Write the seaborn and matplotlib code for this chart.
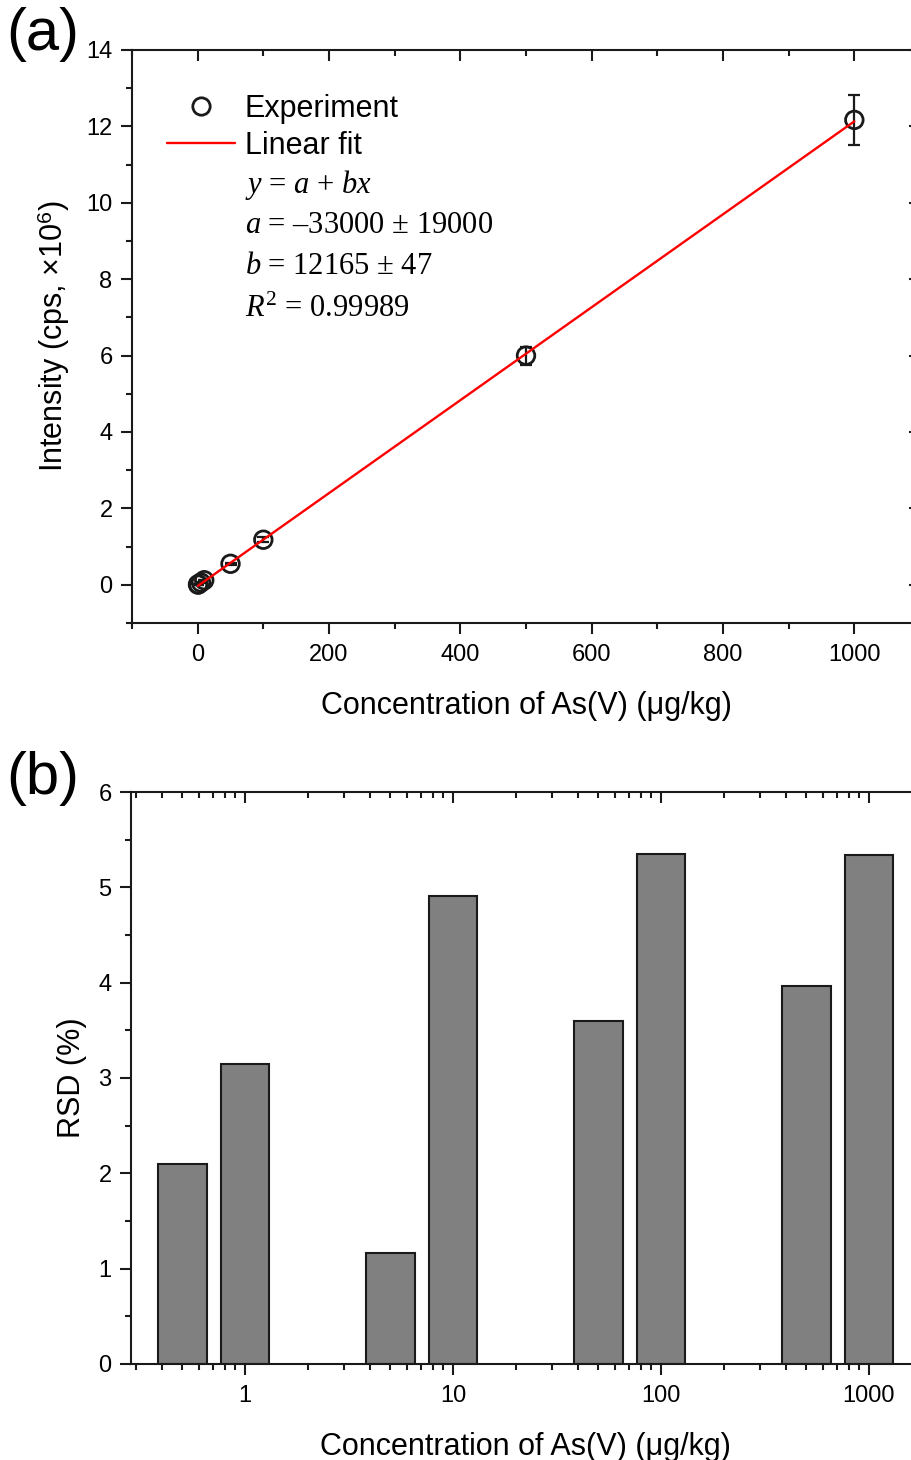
import numpy as np
import matplotlib
matplotlib.use("Agg")
import matplotlib.pyplot as plt
from matplotlib.lines import Line2D
from matplotlib.ticker import MultipleLocator, LogLocator, NullFormatter, FixedLocator, FixedFormatter
import seaborn as sns

sns.set_theme(style="ticks")
plt.rcParams['font.family'] = ['Liberation Sans', 'DejaVu Sans']
plt.rcParams['mathtext.fontset'] = 'custom'
plt.rcParams['mathtext.rm'] = 'Liberation Serif'
plt.rcParams['mathtext.it'] = 'Liberation Serif:italic'
plt.rcParams['mathtext.sf'] = 'Liberation Sans'
for k in ['text.color', 'axes.labelcolor', 'xtick.color', 'ytick.color', 'axes.edgecolor']:
    plt.rcParams[k] = 'black'

# concentrations of As(V), ug/kg
conc = [0.5, 1, 5, 10, 50, 100, 500, 1000]
# intensity, x10^6 cps
intensity = [0.006, 0.012, 0.06, 0.12, 0.55, 1.18, 6.0, 12.17]
# RSD (%)
rsd = [2.10, 3.15, 1.165, 4.91, 3.60, 5.35, 3.96, 5.34]
# linear fit params (cps)
fit_a = -33000
fit_b = 12165
bar_labels = ["1", "10", "100", "1000"]

conc = np.array(conc)
intensity = np.array(intensity)
rsd = np.array(rsd)
err = intensity * rsd / 100.0

W, H = 912, 1460
fig = plt.figure(figsize=(W / 100, H / 100), dpi=100)

lw = 1.5
tick_fs = 17
lab_fs = 22

# ---------- panel (a) ----------
ax1 = fig.add_axes([132 / W, 1 - 623 / H, 788 / W, 573 / H])

ax1.errorbar(conc, intensity, yerr=err, fmt="none", ecolor="k",
             elinewidth=1.6, capsize=4, capthick=1.6, zorder=3)
sns.scatterplot(x=conc, y=intensity, marker="o", s=160, facecolors="none",
                edgecolors="k", linewidth=2.0, ax=ax1, zorder=4)
# fit line is drawn on top of the points
xfit = np.array([conc.min(), conc.max()])
yfit = (fit_a + fit_b * xfit) / 1e6
sns.lineplot(x=xfit, y=yfit, color="red", lw=1.7, ax=ax1, zorder=5)

ax1.set_xlim(-100, 1100)
ax1.set_ylim(-1, 14)
ax1.xaxis.set_major_locator(MultipleLocator(200))
ax1.xaxis.set_minor_locator(MultipleLocator(100))
ax1.yaxis.set_major_locator(MultipleLocator(2))
ax1.yaxis.set_minor_locator(MultipleLocator(1))
ax1.set_xlabel("Concentration of As(V) (μg/kg)", fontsize=lab_fs, labelpad=18)
ax1.set_ylabel("Intensity (cps, ×10$^{\\mathsf{6}}$)", fontsize=lab_fs, labelpad=10)

handles = [Line2D([], [], marker="o", ls="none", mfc="none", mec="k", ms=12.5, mew=2.0),
           Line2D([], [], color="red", lw=1.7)]
ax1.legend(handles, ["Experiment", "Linear fit"], loc="upper left",
           bbox_to_anchor=(0.044, 0.924), frameon=False, fontsize=lab_fs,
           handlelength=2.22, handletextpad=0.33, labelspacing=0.24, borderaxespad=0,
           borderpad=0)

eq_lines = ["$y$ = $a$ + $bx$",
            "$a$ = –33000 ± 19000",
            "$b$ = 12165 ± 47",
            "$R^{\\mathrm{2}}$ = 0.99989"]
eq_y = [0.765, 0.694, 0.622, 0.548]
for txt, yy in zip(eq_lines, eq_y):
    ax1.text(0.1434, yy, txt, transform=ax1.transAxes, fontsize=lab_fs,
             family="Liberation Serif", va="center", ha="left")

# ---------- panel (b) ----------
ax2 = fig.add_axes([131 / W, 1 - 1364 / H, 789 / W, 572 / H])
ax2.set_xscale("log")
half = 1.31
lefts = conc / half
widths = conc * half - conc / half
ax2.bar(lefts, rsd, width=widths, align="edge", color="#808080",
        edgecolor="k", linewidth=1.5, zorder=2)
ax2.set_xlim(0.283, 1760)
ax2.set_ylim(0, 6)
ax2.xaxis.set_major_locator(FixedLocator([1, 10, 100, 1000]))
ax2.xaxis.set_major_formatter(FixedFormatter(bar_labels))
ax2.xaxis.set_minor_locator(LogLocator(base=10, subs=np.arange(2, 10), numticks=20))
ax2.xaxis.set_minor_formatter(NullFormatter())
ax2.yaxis.set_major_locator(MultipleLocator(1))
ax2.yaxis.set_minor_locator(MultipleLocator(0.5))
ax2.set_xlabel("Concentration of As(V) (μg/kg)", fontsize=lab_fs, labelpad=18)
ax2.set_ylabel("RSD (%)", fontsize=lab_fs, labelpad=8)

for ax in (ax1, ax2):
    for s in ax.spines.values():
        s.set_linewidth(lw)
        s.set_color("k")
    ax.tick_params(axis="both", which="major", labelsize=tick_fs, width=lw,
                   length=8, color="k", direction="out")
    ax.tick_params(axis="both", which="minor", width=lw, length=4,
                   color="k", direction="out")
    ax.tick_params(axis="x", which="both", top=True, pad=7)
    ax.tick_params(axis="y", which="both", pad=6)
ax1.tick_params(axis="y", which="both", right=True)

# top/right ticks point inward
for ax in (ax1, ax2):
    for t in ax.xaxis.get_major_ticks() + ax.xaxis.get_minor_ticks():
        t.tick2line.set_marker(matplotlib.lines.TICKDOWN)
for t in ax1.yaxis.get_major_ticks() + ax1.yaxis.get_minor_ticks():
    t.tick2line.set_marker(matplotlib.lines.TICKLEFT)

fig.text(6 / W, 1 - 35 / H, "(a)", fontsize=43, va="center", ha="left")
fig.text(6 / W, 1 - 778 / H, "(b)", fontsize=43, va="center", ha="left")

fig.savefig("out.png", dpi=100)
